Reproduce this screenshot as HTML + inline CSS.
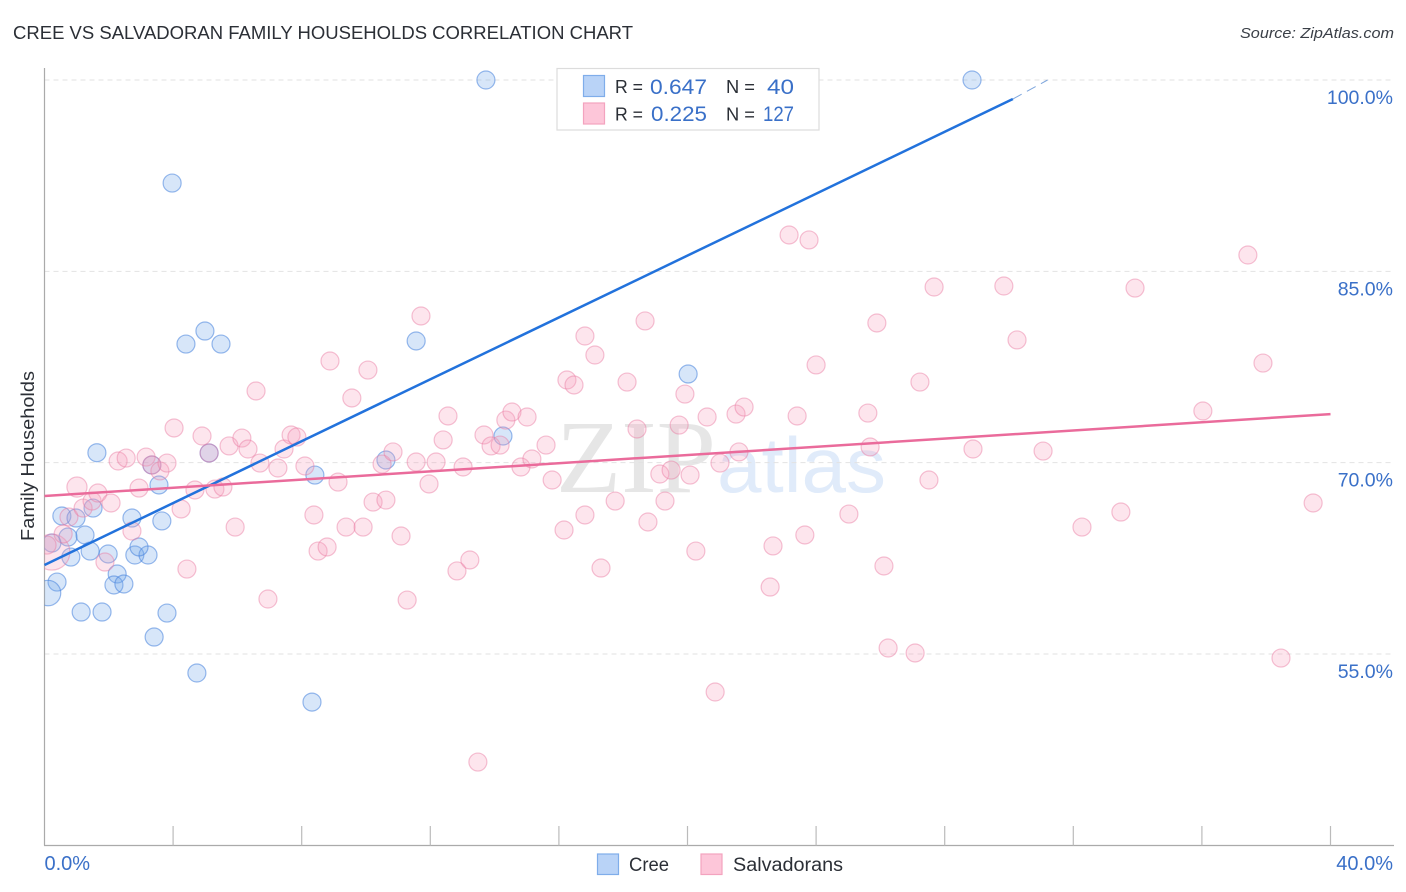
<!DOCTYPE html>
<html lang="en">
<head>
<meta charset="utf-8">
<title>Cree vs Salvadoran Family Households Correlation Chart</title>
<style>
html,body{margin:0;padding:0;background:#fff;width:1406px;height:892px;overflow:hidden}
svg{display:block}
text{font-family:"Liberation Sans",sans-serif}
</style>
</head>
<body>
<svg id="chart" width="1406" height="892" viewBox="0 0 1406 892" xmlns="http://www.w3.org/2000/svg">
  <defs><clipPath id="plot-clip"><rect x="44.5" y="60" width="1350" height="785"/></clipPath></defs>
  <text x="13" y="39" font-size="18.5" fill="#2b2f36" textLength="620" lengthAdjust="spacingAndGlyphs">CREE VS SALVADORAN FAMILY HOUSEHOLDS CORRELATION CHART</text>
  <text x="1394" y="38" font-size="15" font-style="italic" fill="#3a3f47" text-anchor="end" textLength="154" lengthAdjust="spacingAndGlyphs">Source: ZipAtlas.com</text>
  <g>
    <text x="556" y="492" font-size="104" font-family="Liberation Serif" style="font-family:'Liberation Serif',serif" fill="#e6e6e6" textLength="160" lengthAdjust="spacingAndGlyphs">ZIP</text>
    <text x="717" y="492" font-size="78" fill="#e0ebfa" textLength="169" lengthAdjust="spacingAndGlyphs">atlas</text>
  </g>
  <g id="grid"></g>
  <g id="axes"></g>
  <g id="points" clip-path="url(#plot-clip)"></g>
  <g id="trends"></g>
  <text transform="translate(34 456) rotate(-90)" font-size="18.5" fill="#2b2f36" text-anchor="middle" textLength="170" lengthAdjust="spacingAndGlyphs">Family Households</text>
  <g>
    <rect x="557" y="68.5" width="262" height="61.5" fill="#fff" stroke="#dcdcdc" stroke-width="1.2"/>
    <rect x="583.5" y="75.5" width="21" height="21" fill="#b9d3f7" stroke="#7fadea" stroke-width="1.2"/>
    <rect x="583.5" y="103" width="21" height="21" fill="#fdc6d9" stroke="#f3a3bf" stroke-width="1.2"/>
    <text x="615" y="93" font-size="18.5" fill="#2b2f36" textLength="28" lengthAdjust="spacingAndGlyphs">R =</text>
    <text x="650" y="94" font-size="21.5" fill="#3a70c8" textLength="57" lengthAdjust="spacingAndGlyphs">0.647</text>
    <text x="726" y="93" font-size="18.5" fill="#2b2f36" textLength="29" lengthAdjust="spacingAndGlyphs">N =</text>
    <text x="767" y="94" font-size="21.5" fill="#3a70c8" textLength="27" lengthAdjust="spacingAndGlyphs">40</text>
    <text x="615" y="120.5" font-size="18.5" fill="#2b2f36" textLength="28" lengthAdjust="spacingAndGlyphs">R =</text>
    <text x="651" y="121" font-size="21.5" fill="#3a70c8" textLength="56" lengthAdjust="spacingAndGlyphs">0.225</text>
    <text x="726" y="120.5" font-size="18.5" fill="#2b2f36" textLength="29" lengthAdjust="spacingAndGlyphs">N =</text>
    <text x="763" y="121" font-size="21.5" fill="#3a70c8" textLength="31" lengthAdjust="spacingAndGlyphs">127</text>
  </g>
  <g>
    <rect x="597.5" y="854" width="21" height="20.5" fill="#b9d3f7" stroke="#7fadea" stroke-width="1.2"/>
    <text x="629" y="871" font-size="19" fill="#2b2f36" textLength="40" lengthAdjust="spacingAndGlyphs">Cree</text>
    <rect x="701" y="854" width="21" height="20.5" fill="#fdc6d9" stroke="#f3a3bf" stroke-width="1.2"/>
    <text x="733" y="871" font-size="19" fill="#2b2f36" textLength="110" lengthAdjust="spacingAndGlyphs">Salvadorans</text>
  </g>
</svg>
<script>
const creeX = [13.73,28.85,3.97,4.99,4.40,5.49,11.56,20.02,1.63,5.12,14.26,10.62,8.41,3.34,3.56,0.54,0.98,1.51,1.26,0.73,0.23,2.72,3.65,1.42,0.82,1.98,2.81,3.22,2.94,2.26,2.16,2.47,0.39,0.11,1.14,1.79,3.81,3.41,4.74,8.32];
const creeY = [100,100,91.92,80.32,79.30,79.30,79.54,76.95,70.78,70.76,72.09,70.21,69.03,69.82,68.25,65.82,65.66,66.44,64.33,64.17,63.70,65.66,65.43,63.07,62.60,62.84,62.76,62.76,63.39,61.27,60.41,60.49,60.64,59.78,58.29,58.29,58.21,56.33,53.51,51.23];
const salvX = [1.01,0.23,0.08,0.58,0.76,1.20,1.48,1.66,2.07,2.29,2.54,3.16,3.34,3.59,3.81,2.94,2.72,1.88,4.25,4.43,4.03,4.90,5.12,4.68,5.30,5.55,5.93,5.74,6.14,6.33,6.58,6.70,7.26,7.45,7.67,7.85,8.10,6.95,8.38,8.51,8.79,8.88,9.13,9.38,9.56,9.91,10.06,10.22,10.62,10.50,10.84,11.09,11.28,11.56,11.71,11.96,12.18,12.40,12.55,13.02,12.83,13.23,13.48,13.67,13.89,14.17,14.35,14.54,14.82,15.01,15.16,15.60,15.79,16.16,16.25,16.47,16.81,16.81,17.12,17.31,17.75,18.12,18.43,18.68,18.77,19.14,19.30,19.49,19.74,19.92,20.08,20.26,20.61,20.86,21.01,21.51,21.60,21.76,22.57,22.66,23.41,23.65,23.16,23.78,24.00,25.02,25.61,25.68,25.89,26.11,26.24,27.08,27.23,27.51,27.67,28.88,29.84,30.25,31.06,32.27,33.48,33.92,36.03,37.43,37.90,38.46,39.46];
const salvY = [68.09,62.99,63.54,64.41,65.74,66.44,66.99,67.62,66.84,70.13,70.36,70.44,69.82,69.35,69.97,68.01,64.64,62.21,66.37,61.66,72.72,72.09,70.76,67.86,67.93,68.09,64.95,71.31,71.93,71.07,75.62,69.97,69.58,71.07,72.17,72.01,69.74,59.31,65.90,63.07,63.39,77.97,68.48,64.95,75.07,64.95,77.26,66.91,67.07,69.89,70.84,64.25,59.23,70.05,81.50,68.33,70.05,71.78,73.66,69.66,61.51,62.37,46.53,72.17,71.31,71.38,73.34,73.97,69.66,73.58,70.29,71.38,68.64,64.72,76.48,76.09,65.90,79.93,78.44,61.74,66.99,76.32,72.64,81.11,65.35,69.11,66.99,69.42,72.95,75.38,69.03,63.07,73.58,52.02,69.97,73.81,70.84,74.36,60.25,63.47,73.66,64.33,87.85,87.46,77.66,65.97,73.89,71.23,80.95,61.90,55.47,55.08,76.32,68.64,83.77,71.07,83.85,79.62,70.91,64.95,66.13,83.69,74.05,86.28,77.81,54.68,66.84];
const creeWeightByIndex = {33: 2};
const salvWeightByIndex = {0: 1.25, 1: 4};
const creeTrendEnds = [0, 61.98, 30.12, 98.51];
const creeTrendExtension = [30.12, 98.51, 31.2, 100];
const salvTrendEnds = [0, 67.39, 40, 73.81];
const yTickValues = [100, 85, 70, 55];
const yTickLabels = ['100.0%', '85.0%', '70.0%', '55.0%'];
const xTickValues = [0, 4, 8, 12, 16, 20, 24, 28, 32, 36, 40];
const xEndValues = [0, 40];
const xEndLabels = ['0.0%', '40.0%'];

const NS = 'http://www.w3.org/2000/svg';
const X0 = 44.5, X40 = 1330.5, Y100 = 80, Y55 = 654, AXIS_BOTTOM = 845.5;
function xPos(v) { return X0 + (v / 40) * (X40 - X0); }
function yPos(v) { return Y100 + ((100 - v) / 45) * (Y55 - Y100); }
function make(tag, parent, attrs) {
  const el = document.createElementNS(NS, tag);
  Object.keys(attrs).forEach(function (k) { el.setAttribute(k, attrs[k]); });
  parent.appendChild(el);
  return el;
}
const grid = document.getElementById('grid');
const axes = document.getElementById('axes');
const pts = document.getElementById('points');
const trends = document.getElementById('trends');

yTickValues.forEach(function (v, i) {
  const line = make('line', grid, {x1: 44.5, x2: 1394, y1: yPos(v), y2: yPos(v), stroke: '#e2e2e2', 'stroke-width': 1, 'stroke-dasharray': '5 4'});
  
  
  const label = make('text', axes, {x: 1393, y: yPos(v) + 24, 'font-size': 19.5, fill: '#3a70c8', 'text-anchor': 'end'});
  label.textContent = yTickLabels[i];
  
  
});

const yAxis = make('line', axes, {x1: 44.5, x2: 44.5, y1: 68, y2: AXIS_BOTTOM, stroke: '#aaaaaa', 'stroke-width': 1.2});


const xAxis = make('line', axes, {x1: 44, x2: 1394, y1: AXIS_BOTTOM, y2: AXIS_BOTTOM, stroke: '#aaaaaa', 'stroke-width': 1.2});



xTickValues.slice(1).forEach(function (v) {
  const tick = make('line', axes, {x1: xPos(v), x2: xPos(v), y1: 826, y2: AXIS_BOTTOM, stroke: '#bbbbbb', 'stroke-width': 1.2});
  
  
});
xEndValues.forEach(function (v, i) {
  const label = make('text', axes, {x: i === 0 ? xPos(v) : 1393, y: 870, 'font-size': 20, fill: '#3a70c8', 'text-anchor': i === 0 ? 'start' : 'end'});
  label.textContent = xEndLabels[i];
  
  
});

creeX.forEach(function (v, i) {
  const w = creeWeightByIndex[i] || 1;
  const c = make('circle', pts, {cx: xPos(v), cy: yPos(creeY[i]), r: 9 * Math.sqrt(w), fill: 'rgba(110,165,235,0.28)', stroke: 'rgba(70,130,220,0.55)', 'stroke-width': 1.2});
  
  
});
salvX.forEach(function (v, i) {
  const w = salvWeightByIndex[i] || 1;
  const c = make('circle', pts, {cx: xPos(v), cy: yPos(salvY[i]), r: 9 * Math.sqrt(w), fill: 'rgba(248,160,190,0.27)', stroke: 'rgba(232,120,160,0.45)', 'stroke-width': 1.2});
  
  
});

const ct = make('line', trends, {x1: xPos(creeTrendEnds[0]), y1: yPos(creeTrendEnds[1]), x2: xPos(creeTrendEnds[2]), y2: yPos(creeTrendEnds[3]), stroke: '#2272dc', 'stroke-width': 2.5});


const ce = make('line', trends, {x1: xPos(creeTrendExtension[0]), y1: yPos(creeTrendExtension[1]), x2: xPos(creeTrendExtension[2]), y2: yPos(creeTrendExtension[3]), stroke: '#7ea6dd', 'stroke-width': 1, 'stroke-dasharray': '10 6'});


const st = make('line', trends, {x1: xPos(salvTrendEnds[0]), y1: yPos(salvTrendEnds[1]), x2: xPos(salvTrendEnds[2]), y2: yPos(salvTrendEnds[3]), stroke: '#ea6b9b', 'stroke-width': 2.5});


</script>
</body>
</html>
